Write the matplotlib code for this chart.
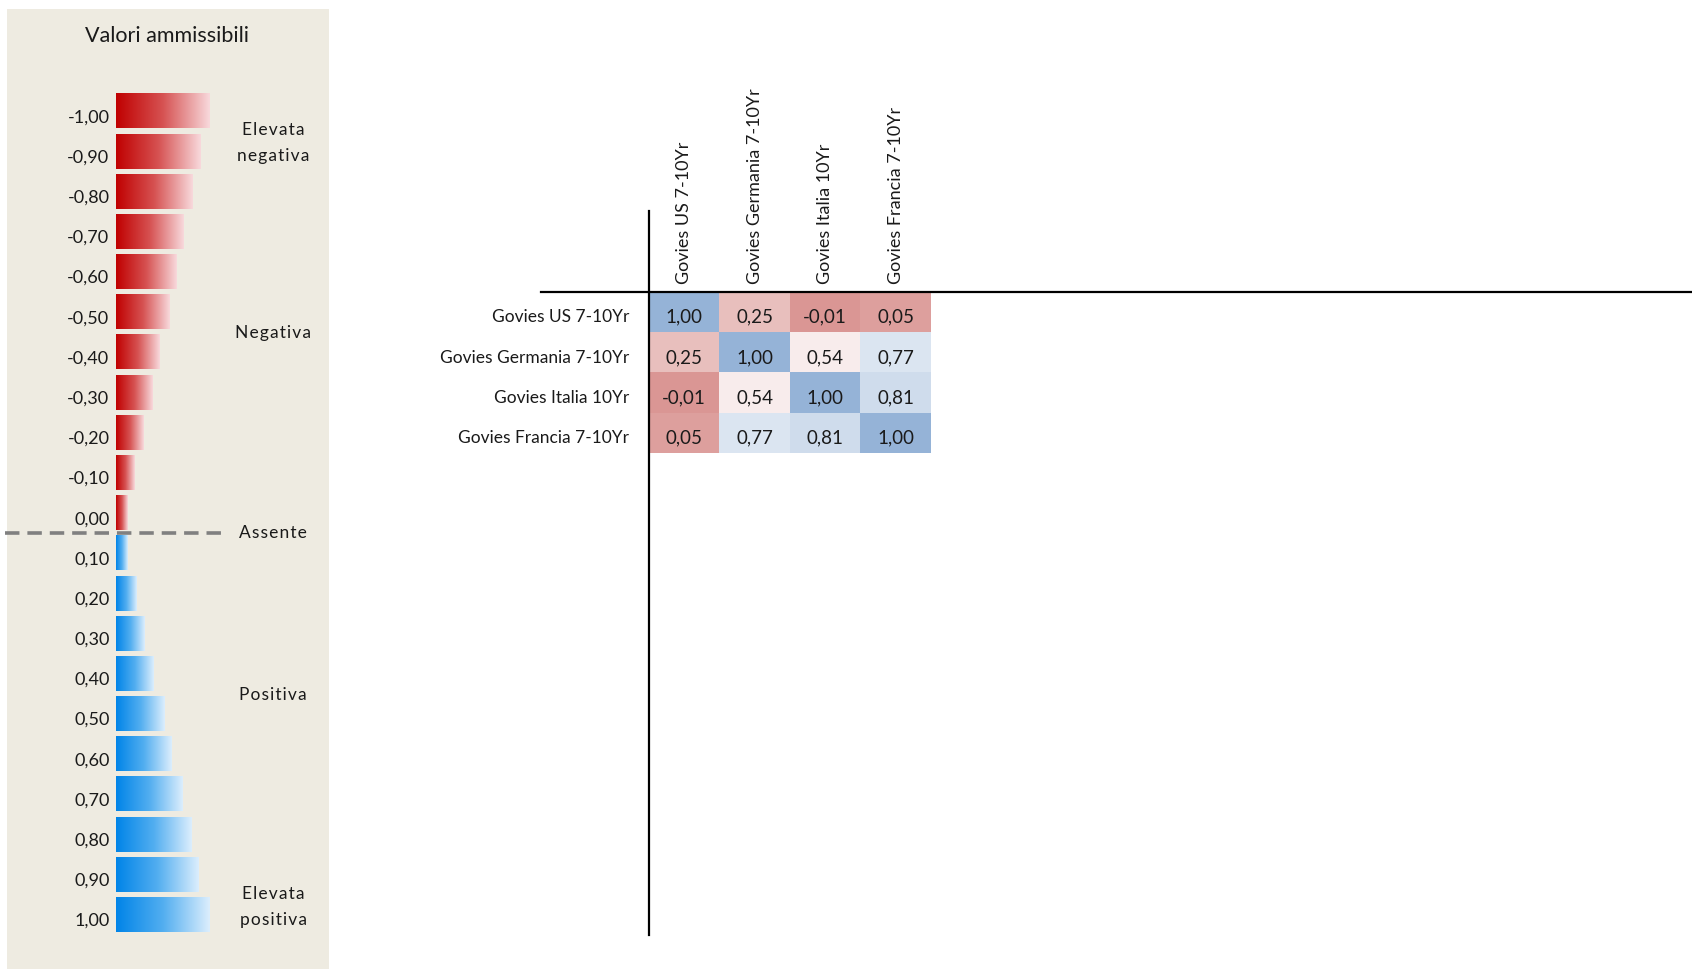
import numpy as np
import matplotlib
matplotlib.use("Agg")
import matplotlib.pyplot as plt
from matplotlib.colors import LinearSegmentedColormap, TwoSlopeNorm
from matplotlib.lines import Line2D

plt.rcParams["font.family"] = ["Lato", "DejaVu Sans"]

# legend: admissible values and the length of each data bar (1.00 = longest)
legend_values = [-1.0, -0.9, -0.8, -0.7, -0.6, -0.5, -0.4, -0.3, -0.2, -0.1, 0.0,
                 0.1, 0.2, 0.3, 0.4, 0.5, 0.6, 0.7, 0.8, 0.9, 1.0]
legend_bar_len = [1.00, 0.91, 0.82, 0.73, 0.65, 0.57, 0.47, 0.39, 0.30, 0.20, 0.12,
                  0.12, 0.22, 0.31, 0.40, 0.52, 0.60, 0.71, 0.81, 0.89, 1.00]
legend_bands = ["Elevata\nnegativa", "Negativa", "Assente", "Positiva", "Elevata\npositiva"]
legend_band_rows = [0.79, 5.53, 10.5, 14.54, 19.81]

# correlation matrix
assets = ["Govies US 7-10Yr", "Govies Germania 7-10Yr", "Govies Italia 10Yr", "Govies Francia 7-10Yr"]
corr = np.array([
    [1.00, 0.25, -0.01, 0.05],
    [0.25, 1.00, 0.54, 0.77],
    [-0.01, 0.54, 1.00, 0.81],
    [0.05, 0.77, 0.81, 1.00],
])

W, H = 1692, 969
fig = plt.figure(figsize=(W / 100, H / 100), dpi=100)
fig.patch.set_facecolor("white")


def fx(px):
    return px / W


def fy(px):
    return 1 - px / H


def spaced(s):
    # Excel renders these labels with loose letter spacing
    return "\n".join("\u200a".join(line) for line in s.split("\n"))


# ---------- legend panel ----------
panel_l, panel_r, panel_t, panel_b = 7, 329, 9, 969
ax_l = fig.add_axes([fx(panel_l), fy(panel_b), fx(panel_r - panel_l), (panel_b - panel_t) / H])
ax_l.set_facecolor("#EEEBE1")
x0_px, unit_px = 116, 93
row0_px, pitch_px = 111, 40.17
ax_l.set_xticks([])
ax_l.set_yticks([])
for s in ax_l.spines.values():
    s.set_visible(False)

red_cm = LinearSegmentedColormap.from_list("red", ["#C00000", "#D65252", "#F8D9DC"])
blue_cm = LinearSegmentedColormap.from_list("blue", ["#0084E8", "#52AEF0", "#DCEEFD"])
grad = np.linspace(0, 1, 256).reshape(1, -1)
bar_h = 0.87
for i, (v, L) in enumerate(zip(legend_values, legend_bar_len)):
    cm = red_cm if v <= 0 else blue_cm
    ax_l.imshow(grad, cmap=cm, aspect="auto", interpolation="bilinear",
                extent=(0, L, i + bar_h / 2, i - bar_h / 2), zorder=2)
    lab = f"{v:.2f}".replace(".", ",")
    ax_l.text(-0.07, i + 0.16, lab, ha="right", va="center", fontsize=13, color="#1a1a1a")

ax_l.set_xlim((panel_l - x0_px) / unit_px, (panel_r - x0_px) / unit_px)
ax_l.set_ylim((panel_b - row0_px) / pitch_px, (panel_t - row0_px) / pitch_px)

ax_l.text(0.55, -1.86, "Valori ammissibili", ha="center", va="center", fontsize=15.5, color="#1a1a1a")
for lab, r in zip(legend_bands, legend_band_rows):
    ax_l.text(1.69, r, spaced(lab), ha="center", va="center", fontsize=12.5, color="#1a1a1a",
              linespacing=1.8)
ax_l.plot([-1.19, 1.15], [10.5, 10.5], ls=(0, (4, 2.2)), color="#808080", lw=2.6,
          clip_on=False, zorder=3)

# ---------- correlation matrix ----------
cell_l, cell_r, cell_t, cell_b = 649, 931, 292, 453
ax_h = fig.add_axes([fx(cell_l), fy(cell_b), fx(cell_r - cell_l), (cell_b - cell_t) / H])
heat_cm = LinearSegmentedColormap.from_list("heat", ["#DA9694", "#FFFFFF", "#95B3D7"])
norm = TwoSlopeNorm(vmin=corr.min(), vcenter=np.median(corr), vmax=corr.max())
ax_h.imshow(corr, cmap=heat_cm, norm=norm, aspect="auto")
for s in ax_h.spines.values():
    s.set_visible(False)
ax_h.set_xticks([])
ax_h.set_yticks([])
n = len(assets)
for i in range(n):
    for j in range(n):
        ax_h.text(j, i + 0.13, f"{corr[i, j]:.2f}".replace(".", ","), ha="center", va="center",
                  fontsize=13.5, color="#1a1a1a")
    ax_h.text(-0.78, i + 0.13, assets[i], ha="right", va="center", fontsize=12.5, color="#1a1a1a",
              clip_on=False)
    ax_h.text(i, -0.7, assets[i], ha="center", va="bottom", rotation=90, fontsize=13,
              color="#1a1a1a", clip_on=False)

fig.add_artist(Line2D([fx(541), fx(W)], [fy(292), fy(292)], color="black", lw=1.6))
fig.add_artist(Line2D([fx(649), fx(649)], [fy(211), fy(935)], color="black", lw=1.6))

fig.savefig("out.png", dpi=100)
